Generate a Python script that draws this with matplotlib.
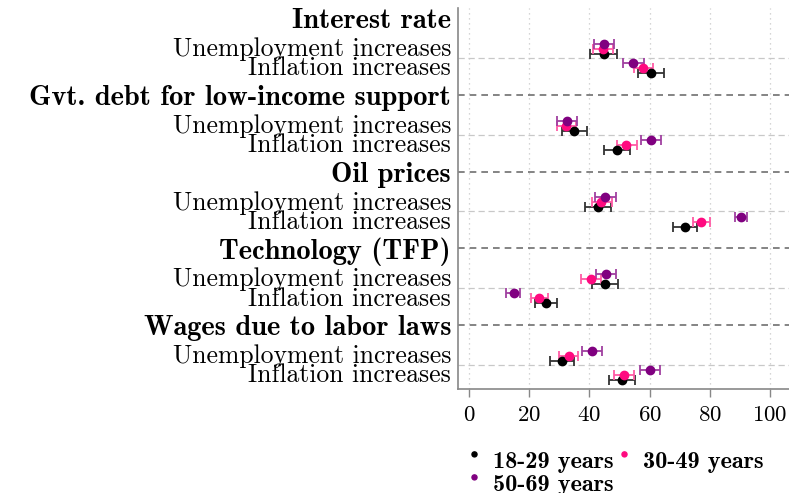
import matplotlib
matplotlib.use("Agg")
import matplotlib.pyplot as plt
from matplotlib.lines import Line2D
from matplotlib.path import Path
import numpy as np

plt.rcParams["font.family"] = "cmr10"
plt.rcParams["axes.formatter.use_mathtext"] = True

# shocks (groups) and the two outcomes inside each group
shocks = ["Interest rate", "Gvt. debt for low-income support", "Oil prices",
          "Technology (TFP)", "Wages due to labor laws"]
outcomes = ["Unemployment increases", "Inflation increases"]
ages = ["18-29 years", "30-49 years", "50-69 years"]
colors = ["#000000", "#FF0A80", "#800080"]
bar_colors = ["#333333", "#FF5AA5", "#A040A0"]

# point estimates, rows = shock x outcome (unemp, infl)
est_18_29 = [44.7, 60.4, 34.8, 49.0, 42.8, 71.8, 45.1, 25.6, 30.8, 50.8]
lo_18_29 = [40.3, 56.2, 30.8, 44.8, 38.6, 67.9, 40.9, 21.8, 26.9, 46.6]
hi_18_29 = [49.0, 64.7, 39.1, 53.4, 47.1, 75.9, 49.4, 29.4, 34.8, 55.1]

est_30_49 = [44.6, 57.9, 32.2, 52.3, 44.0, 77.2, 40.6, 23.4, 33.1, 51.6]
lo_30_49 = [41.2, 54.7, 29.1, 49.0, 40.8, 74.4, 37.3, 20.6, 29.9, 48.2]
hi_30_49 = [47.9, 61.1, 35.4, 55.9, 47.4, 80.1, 43.9, 26.3, 36.1, 54.9]

est_50_69 = [44.8, 54.6, 32.6, 60.4, 45.2, 90.2, 45.4, 14.8, 40.8, 60.0]
lo_50_69 = [41.4, 51.2, 29.4, 57.1, 41.9, 88.2, 42.1, 12.4, 37.6, 56.7]
hi_50_69 = [48.1, 58.0, 35.8, 63.9, 48.8, 92.4, 48.9, 17.1, 44.2, 63.4]

xticks = [0, 20, 40, 60, 80, 100]

series = [(est_18_29, lo_18_29, hi_18_29),
          (est_30_49, lo_30_49, hi_30_49),
          (est_50_69, lo_50_69, hi_50_69)]

fig = plt.figure(figsize=(7.89, 4.93), dpi=100)
ax = fig.add_axes([458 / 789, 104 / 493, 331 / 789, 381 / 493])

# row positions: header at 4g, outcomes at 4g+1.5 and 4g+2.5
row_y = []
for g in range(len(shocks)):
    row_y += [4 * g + 1.5, 4 * g + 2.5]
row_y = np.array(row_y)

offsets = [0.37, 0.11, -0.15]
for (est, lo, hi), c, bc, off in zip(series, colors, bar_colors, offsets):
    est = np.array(est)
    err = [est - np.array(lo), np.array(hi) - est]
    y = row_y + off
    ax.errorbar(est, y, xerr=err, fmt="none", ecolor=bc, elinewidth=1.3,
                capsize=3.5, capthick=1.3, zorder=3)
    ax.plot(est, y, "o", color=c, markersize=6, zorder=4)

# separators
for g in range(len(shocks)):
    if g > 0:
        ax.axhline(4 * g, color="#707070", lw=1.2, ls=(0, (4, 3)), zorder=1)
    ax.axhline(4 * g + 2.08, color="#c8c8c8", lw=0.9, ls=(0, (5, 3)), zorder=1)

for xt in xticks:
    ax.axvline(xt, color="#c8c8c8", lw=0.9, ls=(0, (1, 3)), zorder=0)

ax.set_xlim(-3.65, 106.3)
ax.set_ylim(19.33, -0.52)
ax.set_xticks(xticks)
ax.tick_params(axis="x", labelsize=16.5, length=6, width=1, color="#888888", pad=6)

ytick_pos = []
ytick_lab = []
for g, s in enumerate(shocks):
    ytick_pos += [4 * g, 4 * g + 1.5, 4 * g + 2.5]
    ytick_lab += [s] + outcomes
ax.set_yticks(ytick_pos)
ax.set_yticklabels(ytick_lab)
ax.tick_params(axis="y", length=0, pad=5, labelsize=18.5)
for i, lab in enumerate(ax.get_yticklabels()):
    if i % 3 == 0:
        lab.set_fontfamily("cmb10")
        lab.set_fontsize(20.5)

for side in ["top", "right"]:
    ax.spines[side].set_visible(False)
for side in ["left", "bottom"]:
    ax.spines[side].set_color("#888888")
    ax.spines[side].set_linewidth(1.2)

# legend dots sit a little above the text, as in the source graph
raised_dot = Path.circle(center=(0, 0.67), radius=0.33)
handles = [Line2D([], [], marker=raised_dot, ls="none", color=c, markersize=11)
           for c in colors]
order = [0, 2, 1]
leg = fig.legend([handles[i] for i in order], [ages[i] for i in order],
                 loc="upper left", bbox_to_anchor=(457 / 789, 1 - 441 / 493),
                 ncol=2, frameon=False, handlelength=0.6, handletextpad=0.5,
                 columnspacing=0.1, labelspacing=0.05, borderaxespad=0,
                 prop={"family": "cmb10", "size": 17.5})

fig.savefig("out.png", dpi=100)
